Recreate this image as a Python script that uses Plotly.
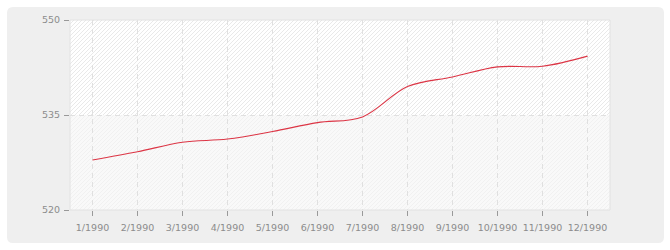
import plotly.graph_objects as go

# ---- data ----
categories = ["1/1990", "2/1990", "3/1990", "4/1990", "5/1990", "6/1990",
              "7/1990", "8/1990", "9/1990", "10/1990", "11/1990", "12/1990"]
values = [527.9, 529.2, 530.7, 531.2, 532.4, 533.8,
          534.7, 539.5, 541.0, 542.6, 542.7, 544.3]
y_ticks = [520, 535, 550]
y_range = [520, 550]

# ---- layout geometry (pixels) ----
W, H = 670, 250
ML, MR, MT, MB = 70, 60, 20, 40
PW, PH = W - ML - MR, H - MT - MB


def px(x):
    return (x - ML) / PW


def py(y):
    return (H - MB - y) / PH


def rounded_rect(x0, y0, x1, y1, r):
    return (f"M{px(x0 + r)},{py(y0)} L{px(x1 - r)},{py(y0)} "
            f"Q{px(x1)},{py(y0)} {px(x1)},{py(y0 + r)} "
            f"L{px(x1)},{py(y1 - r)} Q{px(x1)},{py(y1)} {px(x1 - r)},{py(y1)} "
            f"L{px(x0 + r)},{py(y1)} Q{px(x0)},{py(y1)} {px(x0)},{py(y1 - r)} "
            f"L{px(x0)},{py(y0 + r)} Q{px(x0)},{py(y0)} {px(x0 + r)},{py(y0)} Z")


def hatch(x0, x1, ytop, ybot, step):
    # 45 degree "/" lines inside pixel rect
    w = x1 - x0
    h = ybot - ytop
    parts = []
    c = -h
    while c < w:
        if c >= 0:
            sx, su = x0 + c, 0
        else:
            sx, su = x0, -c
        t = min(w - c, h)
        ex, eu = x0 + c + t, t
        parts.append(f"M{px(sx)},{py(ybot - su)} L{px(ex)},{py(ybot - eu)}")
        c += step
    return " ".join(parts)


mid_y = MT + PH / 2
shapes = [
    dict(type="path", xref="paper", yref="paper", layer="below",
         path=rounded_rect(7, 7, 664, 243, 6),
         fillcolor="#efefef", line=dict(width=0)),
    dict(type="rect", xref="paper", yref="paper", layer="below",
         x0=0, x1=1, y0=0.5, y1=1, fillcolor="#ffffff", line=dict(width=0)),
    dict(type="rect", xref="paper", yref="paper", layer="below",
         x0=0, x1=1, y0=0, y1=0.5, fillcolor="#f9f9f9", line=dict(width=0)),
    dict(type="path", xref="paper", yref="paper", layer="below",
         path=hatch(ML, ML + PW, MT, mid_y, 4),
         line=dict(color="#e9e9e9", width=1)),
    dict(type="path", xref="paper", yref="paper", layer="below",
         path=hatch(ML, ML + PW, mid_y, MT + PH, 4),
         line=dict(color="#f1f1f1", width=1)),
    dict(type="rect", xref="paper", yref="paper", layer="above",
         x0=0, x1=1, y0=0, y1=1, line=dict(color="#e2e2e2", width=1)),
]

fig = go.Figure()
fig.add_trace(go.Scatter(
    x=categories, y=values, mode="lines",
    line=dict(color="#dc3545", width=1.1, shape="spline", smoothing=1),
    hoverinfo="skip", showlegend=False,
))

tickfont = dict(family="DejaVu Sans", size=9.5, color="#8c8c8c")
fig.update_layout(
    width=W, height=H,
    margin=dict(l=ML, r=MR, t=MT, b=MB, pad=0, autoexpand=False),
    paper_bgcolor="#ffffff", plot_bgcolor="#ffffff",
    shapes=shapes,
    xaxis=dict(
        type="category", range=[-0.5, len(categories) - 0.5],
        showgrid=True, gridcolor="#e0e0e0", griddash="5px,4px", gridwidth=1,
        ticks="outside", ticklen=5, tickcolor="#999999", tickfont=tickfont,
        tickangle=0, automargin=False, ticklabelstandoff=4,
        showline=False, zeroline=False, fixedrange=True,
    ),
    yaxis=dict(
        range=y_range, tickvals=y_ticks,
        showgrid=True, gridcolor="#e0e0e0", griddash="5px,4px", gridwidth=1,
        ticks="outside", ticklen=5, tickcolor="#999999", tickfont=tickfont,
        automargin=False, ticklabelstandoff=2,
        showline=False, zeroline=False, fixedrange=True,
    ),
)

fig.write_html("out.html")
